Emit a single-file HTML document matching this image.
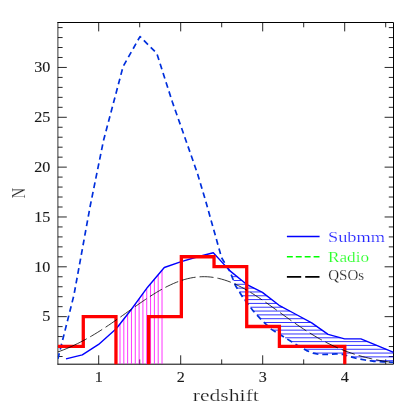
<!DOCTYPE html><html><head><meta charset="utf-8"><style>html,body{margin:0;padding:0;background:#fff;}svg{display:block}text{font-family:"Liberation Serif",serif;stroke:#fff;stroke-width:0.2px;}svg{will-change:transform}</style></head><body>
<svg width="415" height="415" viewBox="0 0 415 415">
<rect width="415" height="415" fill="#fff"/>
<defs><clipPath id="c"><rect x="57.9" y="22.5" width="335.6" height="341.7"/></clipPath></defs>
<path d="M98.70 364.20v-8.90M98.70 22.50v8.90M139.70 364.20v-4.80M139.70 22.50v4.80M180.70 364.20v-8.90M180.70 22.50v8.90M221.70 364.20v-4.80M221.70 22.50v4.80M262.70 364.20v-8.90M262.70 22.50v8.90M303.70 364.20v-4.80M303.70 22.50v4.80M344.70 364.20v-8.90M344.70 22.50v8.90M385.70 364.20v-4.80M385.70 22.50v4.80M57.90 356.52h4.70M393.50 356.52h-4.70M57.90 346.55h4.70M393.50 346.55h-4.70M57.90 336.59h4.70M393.50 336.59h-4.70M57.90 326.62h4.70M393.50 326.62h-4.70M57.90 316.65h8.90M393.50 316.65h-8.90M57.90 306.68h4.70M393.50 306.68h-4.70M57.90 296.71h4.70M393.50 296.71h-4.70M57.90 286.75h4.70M393.50 286.75h-4.70M57.90 276.78h4.70M393.50 276.78h-4.70M57.90 266.81h8.90M393.50 266.81h-8.90M57.90 256.84h4.70M393.50 256.84h-4.70M57.90 246.87h4.70M393.50 246.87h-4.70M57.90 236.91h4.70M393.50 236.91h-4.70M57.90 226.94h4.70M393.50 226.94h-4.70M57.90 216.97h8.90M393.50 216.97h-8.90M57.90 207.00h4.70M393.50 207.00h-4.70M57.90 197.03h4.70M393.50 197.03h-4.70M57.90 187.07h4.70M393.50 187.07h-4.70M57.90 177.10h4.70M393.50 177.10h-4.70M57.90 167.13h8.90M393.50 167.13h-8.90M57.90 157.16h4.70M393.50 157.16h-4.70M57.90 147.19h4.70M393.50 147.19h-4.70M57.90 137.23h4.70M393.50 137.23h-4.70M57.90 127.26h4.70M393.50 127.26h-4.70M57.90 117.29h8.90M393.50 117.29h-8.90M57.90 107.32h4.70M393.50 107.32h-4.70M57.90 97.35h4.70M393.50 97.35h-4.70M57.90 87.39h4.70M393.50 87.39h-4.70M57.90 77.42h4.70M393.50 77.42h-4.70M57.90 67.45h8.90M393.50 67.45h-8.90M57.90 57.48h4.70M393.50 57.48h-4.70M57.90 47.51h4.70M393.50 47.51h-4.70M57.90 37.55h4.70M393.50 37.55h-4.70M57.90 27.58h4.70M393.50 27.58h-4.70" stroke="#1c1c1c" stroke-width="0.95" fill="none"/>
<path d="M57.50 22.50H393.50V364.20H57.50" fill="none" stroke="#000" stroke-width="1.00" stroke-linejoin="miter"/>
<path d="M57.90 22.00V364.70" fill="none" stroke="#000" stroke-width="0.8"/>
<g clip-path="url(#c)">
<path d="M120.00 364.20V323.94M123.82 364.20V319.06M127.64 364.20V314.18M131.46 364.20V309.28M135.28 364.20V304.05M139.10 364.20V298.83M142.92 364.20V293.60M146.74 364.20V288.38M150.56 364.20V283.71M154.38 364.20V279.20M158.20 364.20V274.70M162.02 364.20V270.19" stroke="#ff00ff" stroke-width="0.8" fill="none"/>
<path d="M232.01 276.67H237.14M233.48 280.49H241.83M234.94 284.31H246.52M237.05 288.13H254.02M239.44 291.95H261.52M241.83 295.77H266.76M244.48 299.59H271.71M247.43 303.41H276.65M250.37 307.23H282.69M253.34 311.05H289.81M256.83 314.87H296.90M260.32 318.69H303.94M264.16 322.51H310.98M268.23 326.33H316.59M272.72 330.15H322.04M278.92 333.97H327.49M285.12 337.79H340.53M291.32 341.61H367.53M297.53 345.43H376.88M304.12 349.25H386.18M313.02 353.07H393.50M350.99 356.89H393.50M369.56 360.71H393.50" stroke="#0000ff" stroke-width="0.8" fill="none"/>
<path d="M57.60 360.00 L73.90 295.30 L90.30 205.50 L103.50 140.50 L123.10 66.50 L140.00 36.60 L156.80 53.30 L172.30 101.80 L188.70 148.40 L197.60 173.90 L205.10 199.00 L221.60 257.80 L230.10 271.70 L235.40 285.50 L243.10 297.80 L253.20 310.90 L261.70 320.20 L271.50 329.40 L290.00 340.80 L300.90 347.50 L306.60 350.60 L313.10 353.10 L320.00 354.60 L328.00 354.30 L336.00 353.90 L343.00 354.40 L349.50 356.50 L356.00 358.20 L365.00 360.00 L374.00 361.40 L383.00 361.90 L393.60 362.30" stroke="#002fdc" stroke-width="1.7" fill="none" stroke-dasharray="5.8 3.9" stroke-dashoffset="8.51" stroke-linejoin="round"/>
<path d="M66.00 358.90 L82.30 354.90 L98.60 344.40 L116.20 328.80 L131.30 309.50 L147.60 287.20 L164.30 267.50 L180.50 261.80 L196.90 257.00 L213.30 252.70 L229.70 270.60 L246.50 284.30 L262.40 292.40 L279.10 305.30 L295.30 314.00 L311.70 322.90 L328.10 334.40 L344.60 338.90 L360.90 338.90 L377.30 345.60 L393.60 352.30" stroke="#0000ff" stroke-width="1.4" fill="none" stroke-linejoin="round"/>
<path d="M57.90 346.45 H83.28 V316.55 H115.96 V367.20 H148.65 V316.55 H181.34 V256.74 H214.03 V266.71 H246.72 V326.52 H279.40 V346.45 H344.78 V367.20" stroke="#ff0000" stroke-width="3.3" fill="none" stroke-linejoin="miter"/>
<path d="M57.70 352.03 L60.53 350.99 L63.35 349.89 L66.18 348.75 L69.00 347.54 L71.83 346.29 L74.65 344.98 L77.48 343.61 L80.30 342.19 L83.13 340.71 L85.95 339.19 L88.78 337.61 L91.60 335.98 L94.43 334.30 L97.25 332.57 L100.08 330.80 L102.90 328.99 L105.73 327.14 L108.55 325.26 L111.38 323.34 L114.20 321.40 L117.03 319.43 L119.85 317.45 L122.68 315.44 L125.51 313.43 L128.33 311.42 L131.16 309.41 L133.98 307.40 L136.81 305.41 L139.63 303.44 L142.46 301.49 L145.28 299.57 L148.11 297.69 L150.93 295.85 L153.76 294.07 L156.58 292.34 L159.41 290.67 L162.23 289.07 L165.06 287.55 L167.88 286.11 L170.71 284.75 L173.53 283.48 L176.36 282.31 L179.18 281.24 L182.01 280.27 L184.83 279.42 L187.66 278.67 L190.48 278.04 L193.31 277.53 L196.14 277.13 L198.96 276.86 L201.79 276.71 L204.61 276.68 L207.44 276.78 L210.26 277.00 L213.09 277.35 L215.91 277.83 L218.74 278.42 L221.56 279.13 L224.39 279.96 L227.21 280.90 L230.04 281.95 L232.86 283.10 L235.69 284.36 L238.51 285.71 L241.34 287.14 L244.16 288.66 L246.99 290.26 L249.81 291.93 L252.64 293.67 L255.46 295.47 L258.29 297.32 L261.12 299.21 L263.94 301.15 L266.77 303.11 L269.59 305.11 L272.42 307.12 L275.24 309.15 L278.07 311.19 L280.89 313.23 L283.72 315.27 L286.54 317.29 L289.37 319.31 L292.19 321.30 L295.02 323.27 L297.84 325.21 L300.67 327.12 L303.49 328.99 L306.32 330.83 L309.14 332.62 L311.97 334.36 L314.79 336.06 L317.62 337.71 L320.44 339.30 L323.27 340.84 L326.09 342.33 L328.92 343.76 L331.75 345.14 L334.57 346.46 L337.40 347.73 L340.22 348.93 L343.05 350.09 L345.87 351.18 L348.70 352.23 L351.52 353.22 L354.35 354.15 L357.17 355.04 L360.00 355.87 L362.82 356.66 L365.65 357.40 L368.47 358.10 L371.30 358.75 L374.12 359.36 L376.95 359.93 L379.77 360.46 L382.60 360.95 L385.42 361.41 L388.25 361.83 L391.07 362.23 L393.90 362.59" stroke="#000" stroke-width="0.8" fill="none" stroke-dasharray="32 4 14 4 14 4 14 4 14 4 14 4 14 4 14 4 14 4 14 4 14 4 14 4 14 4 14 4 14 4 14 4 14 4 14 4 14 4 14 4 14 4"/>
</g>
<text x="94.70" y="381.6" font-size="14" style="stroke:#222;stroke-width:0.12px" fill="#1a1a1a" textLength="8.05" lengthAdjust="spacingAndGlyphs">1</text>
<text x="176.70" y="381.6" font-size="14" style="stroke:#222;stroke-width:0.12px" fill="#1a1a1a" textLength="8.05" lengthAdjust="spacingAndGlyphs">2</text>
<text x="258.70" y="381.6" font-size="14" style="stroke:#222;stroke-width:0.12px" fill="#1a1a1a" textLength="8.05" lengthAdjust="spacingAndGlyphs">3</text>
<text x="340.70" y="381.6" font-size="14" style="stroke:#222;stroke-width:0.12px" fill="#1a1a1a" textLength="8.05" lengthAdjust="spacingAndGlyphs">4</text>
<text x="42.25" y="321.35" font-size="14" style="stroke:#222;stroke-width:0.12px" fill="#1a1a1a" textLength="8.1" lengthAdjust="spacingAndGlyphs">5</text>
<text x="34.20" y="271.51" font-size="14" style="stroke:#222;stroke-width:0.12px" fill="#1a1a1a" textLength="16.1" lengthAdjust="spacingAndGlyphs">10</text>
<text x="34.20" y="221.67" font-size="14" style="stroke:#222;stroke-width:0.12px" fill="#1a1a1a" textLength="16.1" lengthAdjust="spacingAndGlyphs">15</text>
<text x="34.20" y="171.83" font-size="14" style="stroke:#222;stroke-width:0.12px" fill="#1a1a1a" textLength="16.1" lengthAdjust="spacingAndGlyphs">20</text>
<text x="34.20" y="121.99" font-size="14" style="stroke:#222;stroke-width:0.12px" fill="#1a1a1a" textLength="16.1" lengthAdjust="spacingAndGlyphs">25</text>
<text x="34.20" y="72.15" font-size="14" style="stroke:#222;stroke-width:0.12px" fill="#1a1a1a" textLength="16.1" lengthAdjust="spacingAndGlyphs">30</text>
<text x="192.7" y="400.8" font-size="16.5" fill="#1a1a1a" textLength="66.2" lengthAdjust="spacingAndGlyphs">redshift</text>
<text transform="translate(25.2 198.6) rotate(-90)" font-size="17.8" fill="#1a1a1a" textLength="10.6" lengthAdjust="spacingAndGlyphs">N</text>
<path d="M286.9 236.5H319.6" stroke="#0000ff" stroke-width="1.6"/>
<path d="M286.9 256.7H319.6" stroke="#00ff00" stroke-width="1.6" stroke-dasharray="5.9 3"/>
<path d="M286.9 276.9H319.6" stroke="#000" stroke-width="1.6" stroke-dasharray="14.3 4"/>
<text x="328.0" y="241.9" font-size="15" fill="#2020ff" textLength="57.0" lengthAdjust="spacingAndGlyphs">Submm</text>
<text x="328.0" y="261.6" font-size="15" fill="#20ff20" textLength="41.1" lengthAdjust="spacingAndGlyphs">Radio</text>
<text x="328.2" y="280.4" font-size="15" fill="#222" textLength="35.9" lengthAdjust="spacingAndGlyphs">QSOs</text>
</svg></body></html>
